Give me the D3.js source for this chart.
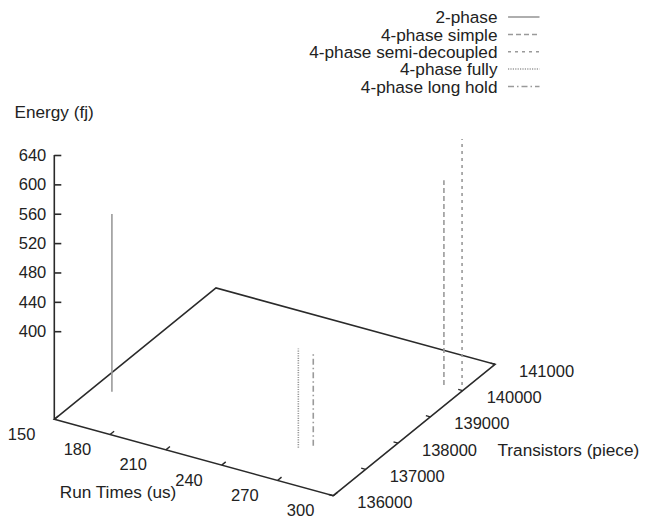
<!DOCTYPE html>
<html>
<head>
<meta charset="utf-8">
<script src="https://cdn.jsdelivr.net/npm/d3@7"></script>
<style>
  html, body { margin: 0; padding: 0; background: #fff; }
  svg { display: block; font-family: "Liberation Sans", Arial, Helvetica, sans-serif; }
  text { fill: #222; }
</style>
</head>
<body>
<svg id="chart" width="657" height="517"></svg>
<script>
// Designs compared: run time, transistor count and energy per design
const series = ["2-phase", "4-phase simple", "4-phase semi-decoupled", "4-phase fully", "4-phase long hold"];
const runTimes = [159.5, 289.7, 297, 262.2, 267.2];          // us
const transistors = [137235, 140013, 140154, 137093, 137267]; // pieces
const energies = [522, 559, 615, 415, 406];                   // fJ

const xTicks = [150, 180, 210, 240, 270, 300];
const yTicks = [136000, 137000, 138000, 139000, 140000, 141000];
const zTicks = [400, 440, 480, 520, 560, 600, 640];

const dashes = [null, "5,3", "3,4", "1.2,1.2", "6,3,1.5,3"];

const svg = d3.select("#chart");
const ink = "#2a2a2a";
const impulseColor = "#9a9a9a";
const numSize = 16.5;
const wordSize = 17.2;

// Oblique projection of the 3D box onto the page
const origin = [54.3, 419.3];
const ex = [279, 76.4];     // direction of the run-time axis
const ey = [161.7, -131.4]; // direction of the transistor axis
const fx = d3.scaleLinear().domain([150, 300]).range([0, 1]);
const fy = d3.scaleLinear().domain([136000, 141000]).range([0, 1]);
const zMin = 400, zMax = 640;
const zFloor = zMin - 0.5 * (zMax - zMin);
const zScale = d3.scaleLinear().domain([zFloor, zMax]).range([origin[1], 155]);

function project(x, y, z) {
  const a = fx(x), b = fy(y);
  const lift = zScale(z) - zScale(zFloor);
  return [origin[0] + a * ex[0] + b * ey[0], origin[1] + a * ex[1] + b * ey[1] + lift];
}

const line = d3.line();

// Floor of the box
const corners = [
  project(150, 136000, zFloor),
  project(300, 136000, zFloor),
  project(300, 141000, zFloor),
  project(150, 141000, zFloor)
];
svg.append("path")
  .attr("d", line(corners) + "Z")
  .attr("fill", "none")
  .attr("stroke", ink)
  .attr("stroke-width", 1.6)
  .attr("stroke-linejoin", "miter");

// Vertical energy axis
svg.append("line")
  .attr("x1", origin[0]).attr("y1", zScale(zFloor))
  .attr("x2", origin[0]).attr("y2", zScale(zMax))
  .attr("stroke", ink).attr("stroke-width", 1.6);

const zAxis = d3.axisLeft(zScale).tickValues(zTicks).tickSize(-7).tickPadding(8);
const zg = svg.append("g")
  .attr("transform", `translate(${origin[0]},0)`)
  .call(zAxis);
zg.select(".domain").remove();
zg.selectAll(".tick line").attr("stroke", ink).attr("stroke-width", 1.6);
zg.selectAll(".tick text")
  .attr("font-size", numSize)
  .attr("font-family", "Liberation Sans, Arial, sans-serif")
  .attr("fill", "#222");

svg.append("text")
  .attr("x", 14.5).attr("y", 118)
  .attr("font-size", wordSize)
  .text("Energy (fj)");

// Run-time axis ticks and labels along the front edge
const xTickLen = 0.025;
xTicks.forEach(v => {
  const p = project(v, 136000, zFloor);
  svg.append("line")
    .attr("x1", p[0]).attr("y1", p[1])
    .attr("x2", p[0] + ey[0] * xTickLen).attr("y2", p[1] + ey[1] * xTickLen)
    .attr("stroke", ink).attr("stroke-width", 1.4);
  svg.append("text")
    .attr("x", p[0] - 32.7).attr("y", p[1] + 14.6)
    .attr("text-anchor", "middle")
    .attr("dominant-baseline", "central")
    .attr("font-size", numSize)
    .text(v);
});
svg.append("text")
  .attr("x", 118).attr("y", 492)
  .attr("text-anchor", "middle")
  .attr("dominant-baseline", "central")
  .attr("font-size", wordSize)
  .text("Run Times (us)");

// Transistor axis ticks and labels along the right edge
const yTickLen = 0.016;
yTicks.forEach(v => {
  const p = project(300, v, zFloor);
  svg.append("line")
    .attr("x1", p[0]).attr("y1", p[1])
    .attr("x2", p[0] - ex[0] * yTickLen).attr("y2", p[1] - ex[1] * yTickLen)
    .attr("stroke", ink).attr("stroke-width", 1.4);
  svg.append("text")
    .attr("x", p[0] + 24).attr("y", p[1] + 6.5)
    .attr("text-anchor", "start")
    .attr("dominant-baseline", "central")
    .attr("font-size", numSize)
    .text(v);
});
svg.append("text")
  .attr("x", 497.5).attr("y", 449.5)
  .attr("text-anchor", "start")
  .attr("dominant-baseline", "central")
  .attr("font-size", wordSize)
  .text("Transistors (piece)");

// Impulses rising from the floor to each design's energy
series.forEach((name, i) => {
  const base = project(runTimes[i], transistors[i], zFloor);
  const top = project(runTimes[i], transistors[i], energies[i]);
  svg.append("line")
    .attr("x1", base[0]).attr("y1", base[1])
    .attr("x2", top[0]).attr("y2", top[1])
    .attr("stroke", impulseColor)
    .attr("stroke-width", 1.6)
    .attr("stroke-dasharray", dashes[i]);
});

// Legend
const legendRight = 497.5;
const legendRows = [17, 34.5, 51.7, 69, 86.5];
series.forEach((name, i) => {
  svg.append("text")
    .attr("x", legendRight).attr("y", legendRows[i])
    .attr("text-anchor", "end")
    .attr("dominant-baseline", "central")
    .attr("font-size", wordSize)
    .text(name);
  svg.append("line")
    .attr("x1", 508).attr("x2", 539.5)
    .attr("y1", legendRows[i]).attr("y2", legendRows[i])
    .attr("stroke", impulseColor)
    .attr("stroke-width", 1.6)
    .attr("stroke-dasharray", dashes[i]);
});
</script>
</body>
</html>
